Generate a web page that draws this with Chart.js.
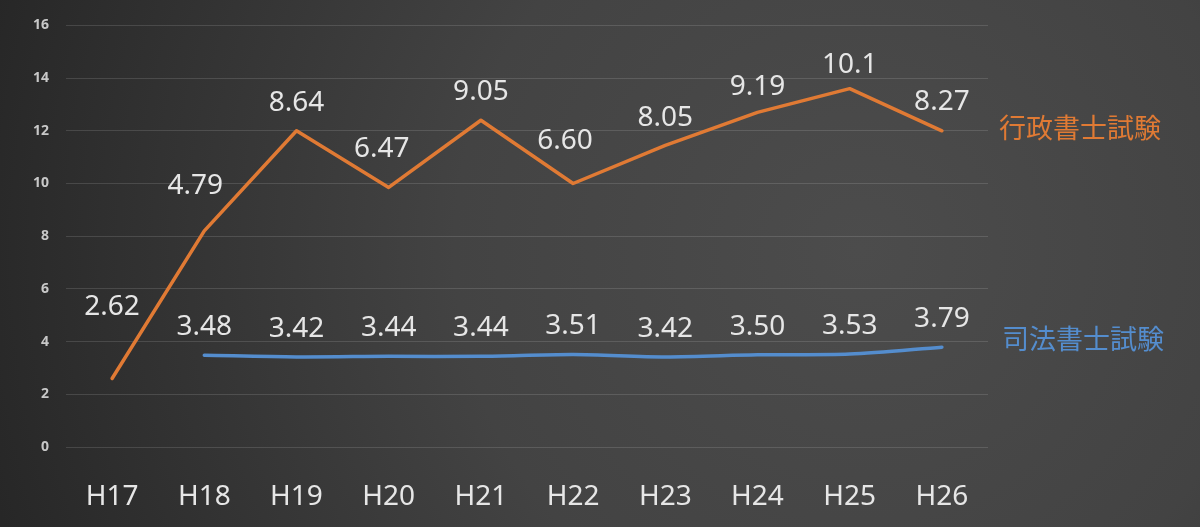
<!DOCTYPE html>
<html>
<head>
  <meta charset="utf-8">
  <title></title>
  <style>
    body { margin: 0; background: #333; }
  </style>
</head>
<body>
<canvas id="passChart" width="1200" height="527"></canvas>
</body>
<script src="https://cdn.jsdelivr.net/npm/chart.js"></script>

<script type="text/javascript">
    // data
    const years = ['H17', 'H18', 'H19', 'H20', 'H21', 'H22', 'H23', 'H24', 'H25', 'H26'];
    // orange line as drawn in the picture, and the numbers written over it
    const gyoseiLine = [2.6, 8.2, 12.0, 9.85, 12.4, 10.0, 11.45, 12.7, 13.6, 12.0];
    const gyoseiText = ['2.62', '4.79', '8.64', '6.47', '9.05', '6.60', '8.05', '9.19', '10.1', '8.27'];
    const shihoValues = [null, 3.48, 3.42, 3.44, 3.44, 3.51, 3.42, 3.50, 3.53, 3.79];
    const seriesNames = ['行政書士試験', '司法書士試験'];
    const yTicks = [0, 2, 4, 6, 8, 10, 12, 14, 16];

    const FONT = '"Noto Sans", "Noto Sans CJK JP", sans-serif';
    const ORANGE = '#e07a34';
    const BLUE = '#548dce';

    // label placement (pixels, relative to the point)
    const gyoseiDy = [-71, -45, -28, -38, -28, -42, -27, -25, -24, -29];
    const gyoseiDx = [0, -9, 0, -7, 0, -8, 0, 0, 0, 0];
    const shihoDy = -28;

    const bgPlugin = {
      id: 'bg',
      beforeDraw(chart) {
        const ctx = chart.ctx;
        const g = ctx.createRadialGradient(860, 250, 0, 860, 250, 900);
        g.addColorStop(0, '#4c4c4c');
        g.addColorStop(0.45, '#434343');
        g.addColorStop(1, '#272727');
        ctx.save();
        ctx.fillStyle = g;
        ctx.fillRect(0, 0, chart.width, chart.height);
        ctx.restore();
      }
    };

    const labelPlugin = {
      id: 'labels',
      afterDatasetsDraw(chart) {
        const ctx = chart.ctx;
        ctx.save();
        ctx.font = '28px ' + FONT;
        ctx.fillStyle = '#e6e6e6';
        ctx.textAlign = 'center';
        ctx.textBaseline = 'middle';

        const m0 = chart.getDatasetMeta(0).data;
        m0.forEach((pt, i) => {
          ctx.fillText(gyoseiText[i], pt.x + gyoseiDx[i], pt.y + gyoseiDy[i]);
        });
        const m1 = chart.getDatasetMeta(1).data;
        m1.forEach((pt, i) => {
          if (shihoValues[i] === null) return;
          ctx.fillText(shihoValues[i].toFixed(2), pt.x, pt.y + shihoDy);
        });

        // series names at the right
        ctx.font = '27px ' + FONT;
        ctx.textAlign = 'left';
        const last0 = m0[m0.length - 1];
        const last1 = m1[m1.length - 1];
        ctx.fillStyle = ORANGE;
        ctx.fillText(seriesNames[0], 999, last0.y);
        ctx.fillStyle = BLUE;
        ctx.fillText(seriesNames[1], 1002, last1.y - 6);
        ctx.restore();
      }
    };

    const data = {
      labels: years,
      datasets: [{
        label: seriesNames[0],
        data: gyoseiLine,
        borderColor: ORANGE,
        borderWidth: 3.5,
        borderCapStyle: 'round',
        borderJoinStyle: 'round',
        pointRadius: 0,
        tension: 0
      }, {
        label: seriesNames[1],
        data: shihoValues,
        borderColor: BLUE,
        borderWidth: 3.5,
        borderCapStyle: 'round',
        pointRadius: 0,
        tension: 0.3
      }]
    };

    const config = {
      type: 'line',
      data: data,
      plugins: [bgPlugin, labelPlugin],
      options: {
        responsive: false,
        animation: false,
        layout: { padding: { top: 20, right: 212, bottom: 0, left: 0 } },
        plugins: {
          legend: { display: false },
          tooltip: { enabled: false }
        },
        scales: {
          x: {
            offset: true,
            grid: { display: false },
            border: { display: false },
            ticks: {
              color: '#e6e6e6',
              font: { family: FONT, size: 28 },
              padding: 25
            },
            afterFit(scale) { scale.height = 80; }
          },
          y: {
            min: 0,
            max: 16,
            afterBuildTicks(scale) { scale.ticks = yTicks.map(v => ({ value: v })); },
            grid: { color: 'rgba(255,255,255,0.13)', drawTicks: false },
            border: { display: false },
            ticks: {
              color: '#c8c8c8',
              font: { family: FONT, size: 14, weight: 'bold' },
              padding: 17
            },
            afterFit(scale) { scale.width = 66; }
          }
        }
      }
    };

    const myChart = new Chart(document.getElementById('passChart'), config);
</script>
</html>
